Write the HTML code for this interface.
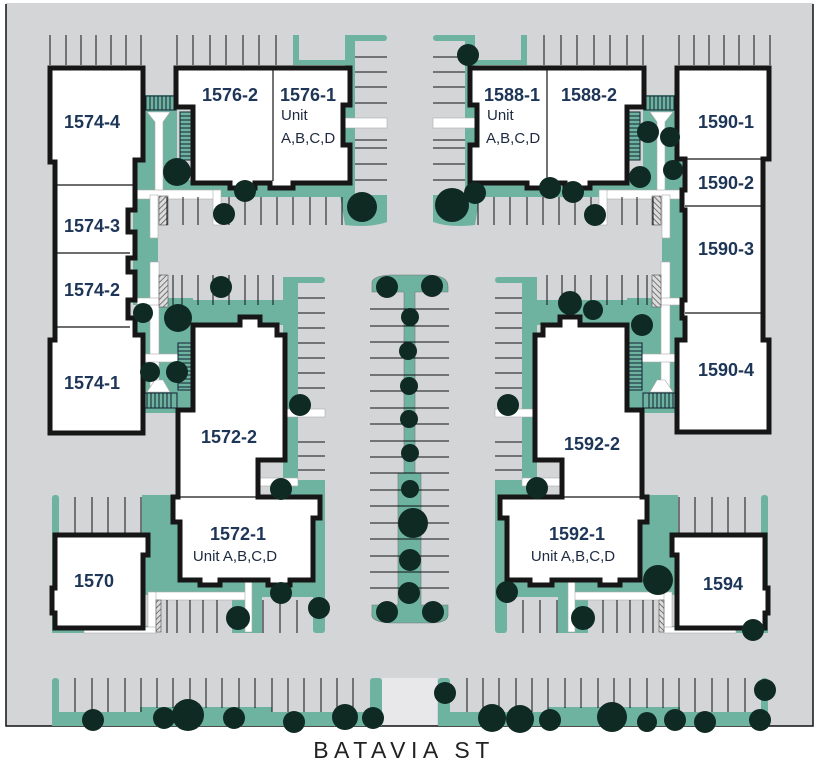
<!DOCTYPE html>
<html><head><meta charset="utf-8"><style>
html,body{margin:0;padding:0;background:#fff;}
svg{display:block}
.lbl{font-family:"Liberation Sans",sans-serif;font-weight:bold;font-size:18px;fill:#1d3557;}
.u{font-family:"Liberation Sans",sans-serif;font-size:15px;fill:#1d2a40;}
</style></head><body>
<svg width="822" height="768" viewBox="0 0 822 768" xmlns="http://www.w3.org/2000/svg">
<defs>
<pattern id="hatch" width="4" height="4" patternUnits="userSpaceOnUse" patternTransform="rotate(45)"><rect width="4" height="4" fill="#ddd"/><line x1="0" y1="0" x2="0" y2="4" stroke="#555" stroke-width="1.5"/></pattern>
<g id="half">
 <g fill="#6db39f">
  <rect x="137" y="95" width="40" height="100"/>
  <rect x="133" y="190" width="25" height="115"/>
  <rect x="137" y="298" width="56" height="115"/>
  <rect x="143" y="180" width="210" height="17"/>
  <rect x="345" y="35" width="10" height="190"/>
  <rect x="345" y="35" width="42" height="6" rx="3"/>
  <rect x="293" y="35" width="6" height="30"/>
  <rect x="293" y="60" width="57" height="5"/>
  <path d="M340 195 L387 195 L387 222 Q370 228 345 225 Z"/>
  <rect x="193" y="300" width="100" height="25"/>
  <rect x="283" y="277" width="15" height="220"/>
  <rect x="283" y="277" width="42" height="6" rx="3"/>
  <rect x="283" y="480" width="42" height="20"/>
  <rect x="313" y="480" width="12" height="153" rx="3"/>
  <rect x="142" y="495" width="40" height="100"/>
  <rect x="178" y="575" width="147" height="22"/>
  <rect x="232" y="590" width="30" height="43"/>
  <rect x="52" y="495" width="7" height="138" rx="3"/>
  <rect x="52" y="626" width="100" height="7"/>
  <rect x="52" y="678" width="7" height="48" rx="3"/>
  <rect x="52" y="712" width="330" height="14"/>
  <rect x="140" y="707" width="132" height="8"/>
  <rect x="370" y="678" width="12" height="48" rx="3"/>
 </g>
 <g fill="#fff" stroke="#aaa" stroke-width="0.6">
  <path d="M147 112 L170 112 L163 122 L163 195 L155 195 L155 122 Z"/>
  <rect x="137" y="190" width="83" height="9"/>
  <rect x="213" y="190" width="8" height="35"/>
  <rect x="150" y="195" width="8" height="43"/>
  <rect x="150" y="262" width="9" height="130"/>
  <rect x="137" y="298" width="22" height="7"/>
  <rect x="143" y="354" width="47" height="8"/>
  <path d="M147 392 L170 392 L163 380 L155 380 Z"/>
  <rect x="343" y="118" width="44" height="10"/>
  <rect x="283" y="409" width="42" height="8"/>
  <rect x="258" y="478" width="40" height="8"/>
  <rect x="148" y="592" width="100" height="8"/>
  <rect x="148" y="592" width="8" height="40"/>
  <rect x="84" y="627" width="72" height="6"/>
  <rect x="245" y="582" width="7" height="50"/>
 </g>
 <rect x="159" y="196" width="9" height="29" fill="url(#hatch)" stroke="#555" stroke-width=".6"/>
 <rect x="159" y="275" width="9" height="32" fill="url(#hatch)" stroke="#555" stroke-width=".6"/>
 <rect x="156" y="600" width="5" height="32" fill="url(#hatch)" stroke="#555" stroke-width=".6"/>
 <g fill="#6db39f" stroke="#123" stroke-width="1">
  <rect x="142" y="96" width="34" height="14"/>
  <rect x="180" y="112" width="13" height="48"/>
  <rect x="178" y="343" width="15" height="47"/>
  <rect x="143" y="393" width="34" height="15"/>
 </g>
 <g stroke="#123" stroke-width="1">
  <path d="M146 96v14M150 96v14M154 96v14M158 96v14M162 96v14M166 96v14M170 96v14"/>
  <path d="M180 116h13M180 120h13M180 124h13M180 128h13M180 132h13M180 136h13M180 140h13M180 144h13M180 148h13M180 152h13M180 156h13"/>
  <path d="M178 347h15M178 351h15M178 355h15M178 359h15M178 363h15M178 367h15M178 371h15M178 375h15M178 379h15M178 383h15M178 387h15"/>
  <path d="M147 393v15M151 393v15M155 393v15M159 393v15M163 393v15M167 393v15M171 393v15"/>
 </g>
 <g stroke="#111" stroke-width="1">
  <path d="M50 35v30M66 35v30M81 35v30M96 35v30M111 35v30M126 35v30M141 35v30"/>
  <path d="M177 35v30M193 35v30M210 35v30M226 35v30M243 35v30M259 35v30M276 35v30"/>
  <path d="M355 57h32M355 72h32M355 87h32M355 103h32M355 140h32M355 148h32M355 164h32M355 180h32"/>
  <path d="M167 197v28M183 197v28M198 197v28M229 197v28M245 197v28M261 197v28M277 197v28M293 197v28M310 197v28M326 197v28M342 197v28"/>
  <path d="M173 275v30M182 275v30M198 275v30M213 275v30M229 275v30M245 275v30M258 275v30M273 275v30"/>
  <path d="M298 298h27M298 313h27M298 328h27M298 343h27M298 358h27M298 373h27M298 388h27M298 442h27M298 456h27M298 470h27"/>
  <path d="M75 497v38M92 497v38M108 497v38M125 497v38M141 497v38"/>
  <path d="M167 600v33M177 600v33M190 600v33M203 600v33M217 600v33M263 600v33M280 600v33M297 600v33"/>
  <path d="M75 678v34M92 678v34M108 678v34M125 678v34M141 678v34M157 678v30M173 678v30M190 678v30M206 678v30M222 678v30M239 678v30M255 678v30M272 678v34M288 678v34M304 678v34M321 678v34M337 678v34M353 678v34"/>
 </g>
 <g fill="#fff" stroke="#161616" stroke-width="5" stroke-linejoin="miter">
  <path d="M176 68H350V105H343V145H350V183H293V188H270V183H255V188H230V183H193V107H176Z"/>
  <path d="M193 325H240V317H260V325H277V335H285V460H258V497H320V518H313V580H290V585H268V580H220V585H200V580H180V522H173V497H178V410H193Z"/>
  <path d="M55 535H148V555H143V628H55V613H52V588H55Z"/>
 </g>
 <g stroke="#161616" stroke-width="1.2">
  <path d="M273 70V181M180 497H258"/>
 </g>
</g>
</defs>
<rect x="6" y="3" width="807" height="723" fill="#d4d5d7"/>
<path d="M6 4V726H813V4" fill="none" stroke="#111" stroke-width="1.5"/>
<use href="#half"/>
<use href="#half" transform="translate(820,0) scale(-1,1)"/>
<g fill="#fff" stroke="#161616" stroke-width="5" stroke-linejoin="miter">
 <path d="M50 68H143V160H135V210H128V232H135V258H128V272H135V300H128V318H135V335H143V433H50V340H55V162H50Z"/>
 <path d="M677 68H769V159H763V340H769V432H677V340H685V318H682V300H685V210H682V190H685V159H677Z"/>
</g>
<g stroke="#161616" stroke-width="1.2">
 <path d="M55 185H135M55 253H130M55 327H130M685 159H763M685 206H763M685 313H763"/>
</g>
<rect x="382" y="678" width="55" height="47" fill="#e8e8ea"/>
<path d="M372 283 Q372 276 390 275 L430 275 Q448 276 448 286 L448 292 L415 292 L415 473 L421 473 L421 605 L448 605 L448 615 Q448 623 430 623 L390 623 Q370 622 372 613 L372 605 L398 605 L398 473 L404 473 L404 292 L372 292 Z" fill="#6db39f" stroke="#777" stroke-width=".6"/>
<g stroke="#111" stroke-width="1">
<path d="M370 309h79M370 326h79M370 342h79M370 358h79M370 375h79M370 391h79M370 408h79M370 424h79M370 441h79M370 457h79M370 473h79M370 490h79M370 506h79M370 523h79M370 539h79M370 556h79M370 572h79M370 588h79"/>
</g>
<g fill="#0f2a22">
<circle cx="177" cy="172" r="14"/><circle cx="245" cy="191" r="11"/><circle cx="224" cy="214" r="11"/><circle cx="362" cy="207" r="15"/>
<circle cx="143" cy="313" r="10"/><circle cx="178" cy="318" r="14"/><circle cx="221" cy="287" r="11"/><circle cx="150" cy="372" r="10"/><circle cx="177" cy="372" r="11"/>
<circle cx="300" cy="405" r="11"/><circle cx="281" cy="489" r="11"/><circle cx="281" cy="593" r="11"/><circle cx="238" cy="618" r="12"/><circle cx="319" cy="608" r="11"/>
<circle cx="93" cy="720" r="11"/><circle cx="164" cy="718" r="11"/><circle cx="188" cy="715" r="16"/><circle cx="234" cy="718" r="11"/><circle cx="294" cy="722" r="11"/><circle cx="345" cy="717" r="13"/><circle cx="373" cy="718" r="11"/>
<circle cx="468" cy="55" r="11"/><circle cx="452" cy="205" r="17"/><circle cx="475" cy="193" r="11"/><circle cx="550" cy="188" r="11"/><circle cx="573" cy="192" r="11"/><circle cx="595" cy="215" r="11"/><circle cx="640" cy="177" r="11"/><circle cx="648" cy="132" r="11"/><circle cx="670" cy="137" r="10"/><circle cx="673" cy="170" r="10"/>
<circle cx="570" cy="303" r="12"/><circle cx="593" cy="310" r="10"/><circle cx="642" cy="325" r="11"/>
<circle cx="508" cy="405" r="11"/><circle cx="537" cy="488" r="11"/><circle cx="507" cy="592" r="11"/><circle cx="583" cy="618" r="12"/><circle cx="658" cy="580" r="15"/><circle cx="753" cy="630" r="11"/>
<circle cx="445" cy="693" r="11"/><circle cx="492" cy="718" r="14"/><circle cx="520" cy="719" r="14"/><circle cx="550" cy="720" r="11"/><circle cx="612" cy="717" r="15"/><circle cx="647" cy="722" r="10"/><circle cx="675" cy="720" r="11"/><circle cx="705" cy="722" r="11"/><circle cx="765" cy="690" r="11"/><circle cx="760" cy="720" r="11"/>
<circle cx="387" cy="287" r="11"/><circle cx="432" cy="286" r="11"/><circle cx="410" cy="317" r="9"/><circle cx="408" cy="351" r="9"/><circle cx="409" cy="386" r="9"/><circle cx="409" cy="419" r="9"/><circle cx="410" cy="453" r="9"/><circle cx="410" cy="489" r="9"/><circle cx="413" cy="523" r="15"/><circle cx="410" cy="560" r="11"/><circle cx="409" cy="593" r="11"/><circle cx="387" cy="612" r="11"/><circle cx="433" cy="612" r="11"/>
</g>
<g class="lbl" text-anchor="middle">
<text x="92" y="128">1574-4</text><text x="92" y="232">1574-3</text><text x="92" y="296">1574-2</text><text x="92" y="389">1574-1</text>
<text x="230" y="101">1576-2</text><text x="589" y="101">1588-2</text>
<text x="726" y="128">1590-1</text><text x="726" y="189">1590-2</text><text x="726" y="255">1590-3</text><text x="726" y="376">1590-4</text>
<text x="229" y="443">1572-2</text><text x="592" y="450">1592-2</text>
<text x="238" y="540">1572-1</text><text x="577" y="540">1592-1</text>
<text x="94" y="587">1570</text><text x="723" y="590">1594</text>
</g>
<text class="lbl" x="280" y="101">1576-1</text>
<text class="lbl" x="484" y="101">1588-1</text>
<text class="u" x="281" y="120">Unit</text><text class="u" x="281" y="143">A,B,C,D</text>
<text class="u" x="487" y="120">Unit</text><text class="u" x="486" y="143">A,B,C,D</text>
<text class="u" x="235" y="561" text-anchor="middle">Unit A,B,C,D</text>
<text class="u" x="573" y="561" text-anchor="middle">Unit A,B,C,D</text>
<text x="404" y="758" text-anchor="middle" font-family="Liberation Sans, sans-serif" font-size="23" letter-spacing="5.5" fill="#222">BATAVIA ST</text>
</svg>
</body></html>
